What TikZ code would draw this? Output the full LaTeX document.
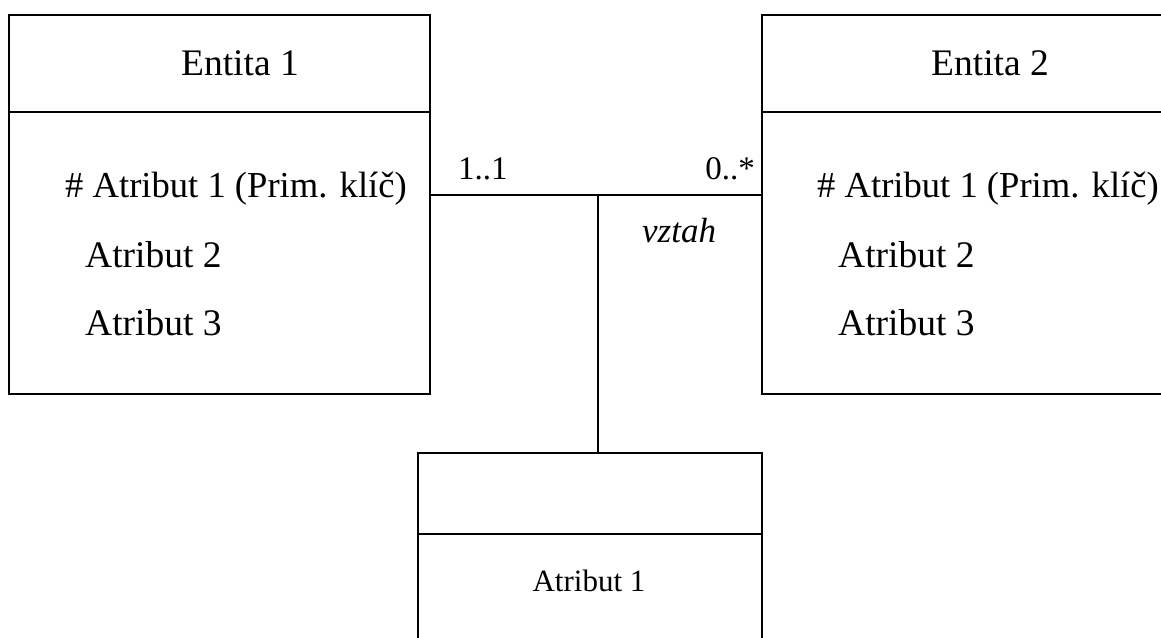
\documentclass[tikz,border=0pt]{standalone}
\usepackage{fontspec}
\setmainfont{Liberation Serif}

\begin{document}
\begin{tikzpicture}[x=1pt, y=-1pt,
  part/.style={rectangle, draw, line width=2pt, anchor=north west, inner sep=0pt, outer sep=0pt},
  title/.style={anchor=base, inner sep=0pt, font=\fontsize{37.5}{42}\selectfont},
  attr/.style={anchor=base west, inner sep=0pt, font=\fontsize{37.5}{42}\selectfont},
  key/.style={attr, font=\fontsize{36.6}{42}\selectfont},
  mult/.style={inner sep=0pt, font=\fontsize{33}{38}\selectfont},
  link/.style={line width=1.6pt}
]
  \clip (0,0) rectangle (1161,637);

  % Entita 1 (left)
  \node[part, minimum width=421pt, minimum height=97pt] (e1head) at (9,15) {};
  \node[part, minimum width=421pt, minimum height=282pt] (e1body) at (9,112) {};
  \node[title] (e1name) at (240,75) {Entita 1};
  \node[key] (e1a1) at (65,197) {\# Atribut 1 (Prim. klíč)};
  \node[attr] (e1a2) at (85,267) {Atribut 2};
  \node[attr] (e1a3) at (85,335) {Atribut 3};

  % Entita 2 (right, runs past the page edge)
  \node[part, minimum width=421pt, minimum height=97pt] (e2head) at (762,15) {};
  \node[part, minimum width=421pt, minimum height=282pt] (e2body) at (762,112) {};
  \node[title] (e2name) at (990,75) {Entita 2};
  \node[key] (e2a1) at (817,197) {\# Atribut 1 (Prim. klíč)};
  \node[attr] (e2a2) at (838,267) {Atribut 2};
  \node[attr] (e2a3) at (838,335) {Atribut 3};

  % association class (bottom)
  \node[part, minimum width=344pt, minimum height=81pt] (ahead) at (418,453) {};
  \node[part, minimum width=344pt, minimum height=160pt] (abody) at (418,534) {};
  \node[inner sep=0pt, anchor=base, font=\fontsize{31}{36}\selectfont] (aa1) at (589,591) {Atribut 1};

  % relationship line and its labels
  \coordinate (joint) at (598,195);
  \draw[link] (joint -| e1body.east) -- (joint -| e2body.west);
  \draw[link] (joint) -- (joint |- ahead.north);
  \node[mult, anchor=base west] (m1) at (458,179) {1..1};
  \node[mult, anchor=base east] (m2) at (755,179) {0..*};
  \node[mult, anchor=base west, font=\fontsize{35}{40}\selectfont\itshape] (rel) at (642,242) {vztah};
\end{tikzpicture}
\end{document}
